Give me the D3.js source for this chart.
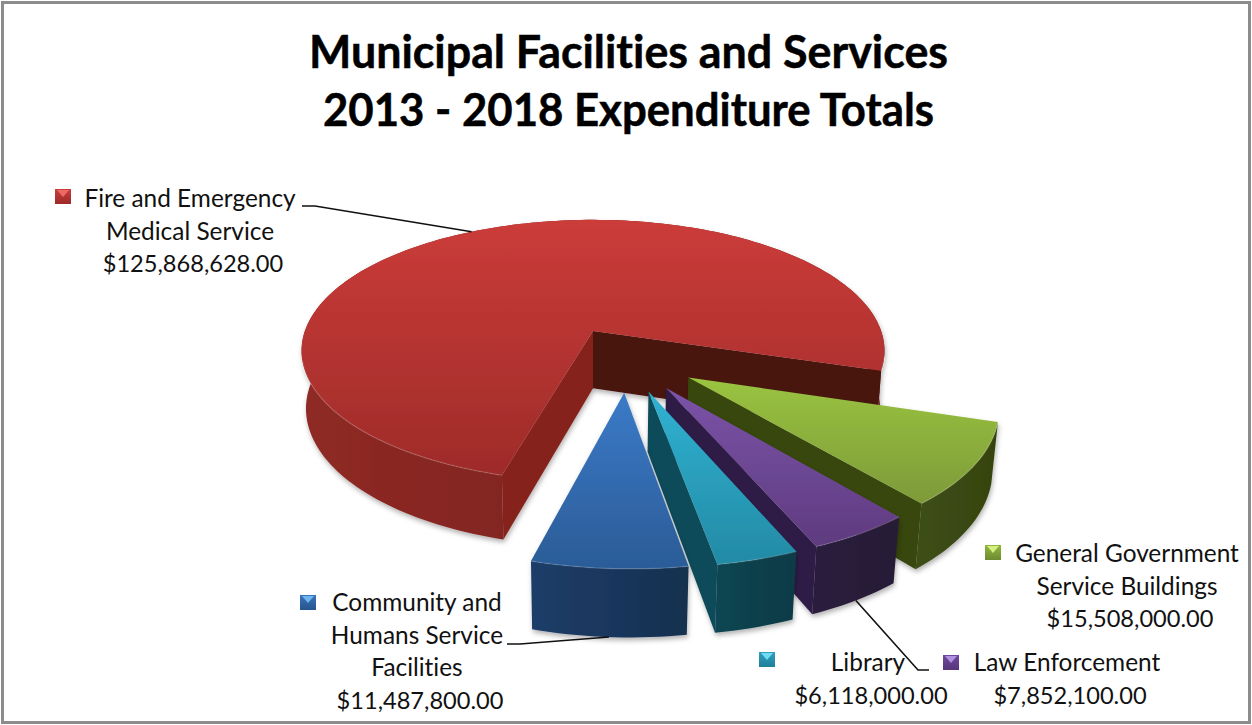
<!DOCTYPE html>
<html>
<head>
<meta charset="utf-8">
<style>
  html, body { margin: 0; padding: 0; background: #fff; }
  svg { display: block; }
  text { font-family: Lato, "Open Sans", sans-serif; fill: #111; font-variant-ligatures: none; }
</style>
<script src="https://cdn.jsdelivr.net/npm/d3@7"></script>
</head>
<body>
<svg id="chart" width="1252" height="725"></svg>
<script>
// Municipal expenditure totals, in pie order (clockwise from the front of the large slice)
const categories = ["Fire and Emergency Medical Service", "General Government Service Buildings", "Law Enforcement", "Library", "Community and Humans Service Facilities"];
const values = [125868628, 15508000, 7852100, 6118000, 11487800];
const titleLines = ["Municipal Facilities and Services", "2013 - 2018 Expenditure Totals"];
const nameLines = [
  ["Fire and Emergency", "Medical Service"],
  ["General Government", "Service Buildings"],
  ["Law Enforcement"],
  ["Library"],
  ["Community and", "Humans Service", "Facilities"]
];

// Colour ramps per slice: top face (far, near), outer wall (left, right), radial walls (start, end)
const topColors = [["#cb3c39", "#9e2b29"], ["#9ac440", "#7d9a39"], ["#7b53a8", "#5f3b7f"], ["#30b2d2", "#238aa5"], ["#3b7ac8", "#2b5c97"]];
const wallColors = [["#8f2a25", "#6c1b1a"], ["#3e4f16", "#35430f"], ["#2a1b3d", "#271a36"], ["#0f4653", "#0f3a46"], ["#1c3d69", "#17304f"]];
const sideColors = [["#85241f", "#4a1211"], ["#38470f", "#38470f"], ["#2e1d46", "#2e1d46"], ["#0f4c5a", "#0f4c5a"], ["#1c3d69", "#1c3d69"]];
const keyColors = [["#c8403c", "#9c2a28"], ["#8fb83f", "#6f8a30"], ["#7048a0", "#573678"], ["#2f9fc0", "#1f7f98"], ["#3a74bc", "#27548c"]];
const keyLights = ["#ee6a66", "#d4ee80", "#b090e0", "#70dcf4", "#70b4f0"];

// Label placement: centre of the text block, first baseline, legend key position
const labelX = [190, 1127, 1067, 868, 417];
const labelY = [207, 562, 671, 671, 611];
const keyX = [63, 993, 951, 767, 308];
const keyY = [196, 552, 662, 659, 602];
const lineStep = 32.5;
const titleWidths = [639, 611];

// Leader lines: label end, elbow, and which rim edge the slice midpoint is read from
const leaders = [
  { slice: 0, from: [302, 206], elbow: [315, 206], depth: 0 },
  { slice: 4, from: [507, 644], elbow: [520, 644], depth: 1 },
  { slice: 2, from: [929, 670], elbow: [918, 670], depth: 1 }
];

// Perspective projection of the pie plane
const perspective = 0.1515, sag = 0.015, wallHeight = 58 / 127.5;
const pivot = [0.118, 0.222], explode = 0.24;
const xScale = d3.scaleLinear().domain([-1, 1]).range([592 - 287.6, 592 + 287.6]);
const yScale = d3.scaleLinear().domain([0, 1]).range([329.5, 329.5 + 127.5]);
function project(X, Y, depth) {
  const w = 1 - perspective * Y + sag * depth;
  return [xScale(X / w), yScale((Y + wallHeight * depth) / w)];
}

const svg = d3.select("#chart");
const defs = svg.append("defs");
const line = d3.line();

// Soft shadow under each solid slice
const shadow = defs.append("filter").attr("id", "soft").attr("x", "-10%").attr("y", "-10%").attr("width", "120%").attr("height", "125%");
shadow.append("feDropShadow").attr("dx", 1).attr("dy", 3).attr("stdDeviation", 2.5).attr("flood-color", "#000").attr("flood-opacity", 0.3);

function gradient(id, colors, vertical) {
  const g = defs.append("linearGradient").attr("id", id)
    .attr("x1", 0).attr("y1", 0).attr("x2", vertical ? 0 : 1).attr("y2", vertical ? 1 : 0);
  g.append("stop").attr("offset", 0).attr("stop-color", colors[0]);
  g.append("stop").attr("offset", 1).attr("stop-color", colors[1]);
}

// Chart frame
svg.append("rect").attr("x", 2.5).attr("y", 2.5).attr("width", 1247).attr("height", 720)
  .attr("fill", "#fff").attr("stroke", "#8c8c8c").attr("stroke-width", 3);

// Title
svg.append("g").selectAll("text").data(titleLines).join("text")
  .attr("x", 628.5).attr("y", (d, i) => 68 + i * 58)
  .attr("text-anchor", "middle").attr("font-size", 45).attr("font-weight", 700)
  .attr("textLength", (d, i) => titleWidths[i]).attr("lengthAdjust", "spacingAndGlyphs")
  .style("fill", "#000").attr("stroke", "#000").attr("stroke-width", 0.5)
  .text(d => d);

// Slices from the pie layout; d3 angle 0 is the far side of the plane
const start = 195.7 * Math.PI / 180;
const arcs = d3.pie().sort(null).value(d => d).startAngle(start).endAngle(start + 2 * Math.PI)(values);

function sliceGeometry(a) {
  const mid = (a.startAngle + a.endAngle) / 2;
  const ox = pivot[0] + explode * Math.sin(mid);
  const oy = pivot[1] - explode * Math.cos(mid);
  const steps = Math.max(8, Math.round((a.endAngle - a.startAngle) * 40));
  const angles = d3.range(steps + 1).map(i => a.startAngle + (a.endAngle - a.startAngle) * i / steps);
  const rim = (t, depth) => project(ox + Math.sin(t), oy - Math.cos(t), depth);
  return { ox, oy, mid, angles, rim };
}

const slices = svg.append("g").selectAll("g").data(arcs).join("g").attr("filter", "url(#soft)");
slices.each(function (a, i) {
  const g = d3.select(this), s = sliceGeometry(a);
  gradient("top" + i, topColors[i], true);
  gradient("wall" + i, wallColors[i], false);
  const apexTop = project(s.ox, s.oy, 0), apexBottom = project(s.ox, s.oy, 1);
  const topRim = s.angles.map(t => s.rim(t, 0));
  const bottomRim = s.angles.map(t => s.rim(t, 1));
  const last = topRim.length - 1;

  g.append("path").attr("d", line(topRim.concat(bottomRim.slice().reverse())) + "Z").attr("fill", `url(#wall${i})`);

  // Radial cut faces are drawn only where they turn toward the viewer
  const startFace = [apexTop, topRim[0], bottomRim[0], apexBottom];
  const endFace = [apexTop, topRim[last], bottomRim[last], apexBottom];
  if (d3.polygonArea(startFace) > 0) g.append("path").attr("d", line(startFace) + "Z").attr("fill", sideColors[i][0]);
  if (d3.polygonArea(endFace) < 0) g.append("path").attr("d", line(endFace) + "Z").attr("fill", sideColors[i][1]);

  g.append("path").attr("d", line([apexTop].concat(topRim)) + "Z").attr("fill", `url(#top${i})`);

  // Faint highlight along the near edge of the top face
  const nearEdge = d3.line().defined(t => Math.cos(t) < -0.2).x(t => s.rim(t, 0)[0]).y(t => s.rim(t, 0)[1]);
  g.append("path").attr("d", nearEdge(s.angles)).attr("fill", "none")
    .attr("stroke", "#fff").attr("stroke-opacity", 0.12).attr("stroke-width", 1.5);
});

// Leader lines end at the middle of each slice's rim
svg.append("g").selectAll("path").data(leaders).join("path")
  .attr("d", d => {
    const s = sliceGeometry(arcs[d.slice]);
    return line([d.from, d.elbow, s.rim(s.mid, d.depth)]);
  })
  .attr("fill", "none").attr("stroke", "#111").attr("stroke-width", 1.6);

// Legend keys: small bevelled squares with a bright notch on top
const keys = svg.append("g").selectAll("g").data(categories).join("g")
  .attr("transform", (d, i) => `translate(${keyX[i]},${keyY[i]})`);
keys.each(function (d, i) {
  gradient("key" + i, keyColors[i], true);
  const k = d3.select(this);
  k.append("rect").attr("x", -8).attr("y", -7).attr("width", 16).attr("height", 15).attr("fill", `url(#key${i})`);
  k.append("path").attr("d", line([[-6, -6], [6, -6], [0, 1]]) + "Z").attr("fill", keyLights[i]);
});

// Category names with the dollar value underneath
const money = d3.format("$,.2f");
const labels = svg.append("g").selectAll("text").data(values).join("text")
  .attr("text-anchor", "middle").attr("font-size", 24.4);
labels.each(function (v, i) {
  const rows = nameLines[i].concat(money(v));
  d3.select(this).selectAll("tspan").data(rows).join("tspan")
    .attr("x", (r, j) => labelX[i] + (j === rows.length - 1 ? 3 : 0))
    .attr("y", (r, j) => labelY[i] + j * lineStep)
    .attr("font-size", (r, j) => j === rows.length - 1 ? 23.6 : null)
    .text(r => r);
});
</script>
</body>
</html>
